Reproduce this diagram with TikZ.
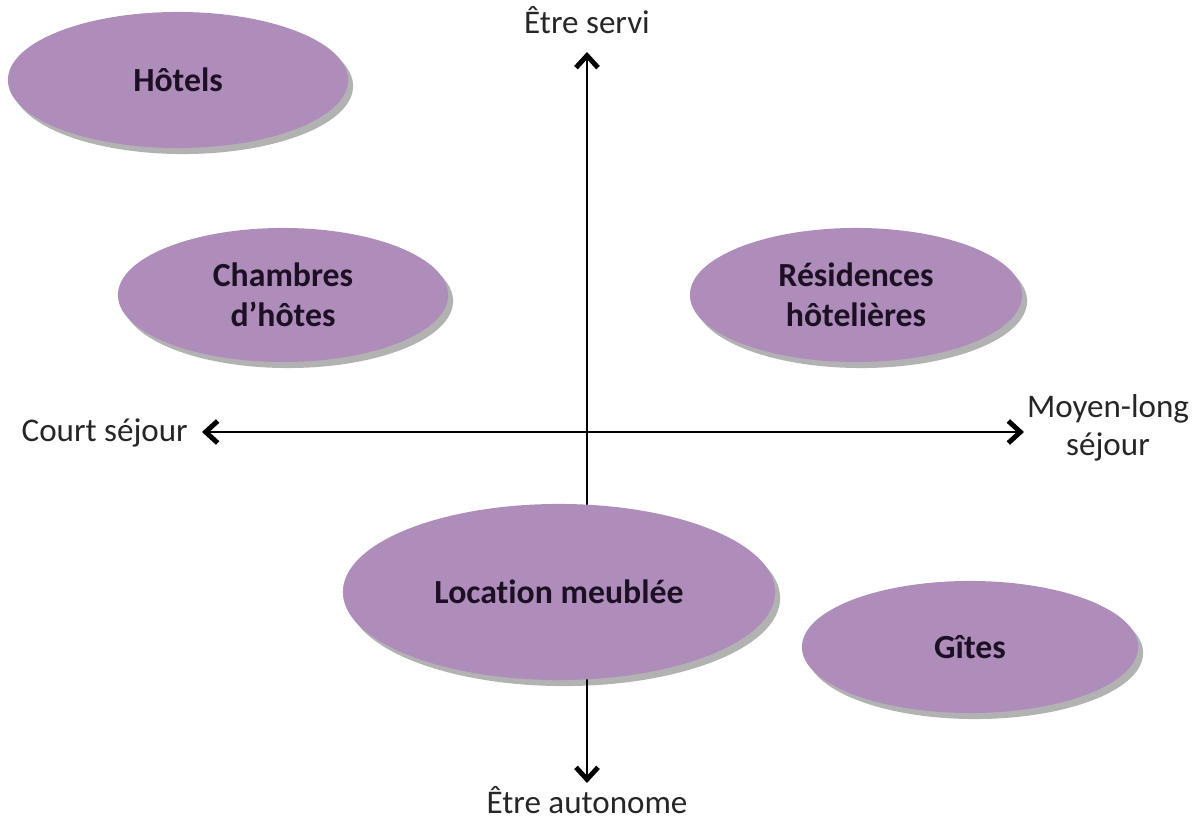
\documentclass[tikz,border=0pt]{standalone}
\usepackage{fontspec}
\setmainfont{Carlito}[Ligatures=NoCommon]
\usetikzlibrary{shapes.geometric, shadows, arrows.meta}
\definecolor{lilas}{RGB}{174,141,187}
\definecolor{texto}{RGB}{30,16,36}
\begin{document}
\begin{tikzpicture}[x=0.01cm, y=-0.01cm,
    bolha/.style={ellipse, fill=lilas, inner sep=0pt, text=texto, font=\fontsize{9.6}{11.5}\selectfont\bfseries, align=center,
        drop shadow={shadow xshift=0.05cm, shadow yshift=-0.06cm, fill=black, opacity=0.3}},
    rotulo/.style={text=black!85, font=\fontsize{9.4}{11}\selectfont, align=center, inner sep=1pt},
    eixo/.style={line width=0.6pt, {Straight Barb[length=1.2mm, width=2.2mm, line width=1.4pt]}-{Straight Barb[length=1.2mm, width=2.2mm, line width=1.4pt]}}]

        \useasboundingbox (0,0) rectangle (1194,818);

        % Eixos
        \coordinate (topo) at (587,52);
        \coordinate (base) at (587,783);
        \coordinate (esq) at (202,432);
        \coordinate (dir) at (1024,432);
        \draw[eixo] (topo) -- (base);
        \draw[eixo] (esq) -- (dir);

        % Rótulos dos eixos
        \node[rotulo] (servi) at (587,20) {Être servi};
        \node[rotulo] (autonome) at (587,800) {Être autonome};
        \node[rotulo, anchor=east] (court) at (192,433) {Court séjour};
        \node[rotulo] (moyen) at (1108,428) {Moyen-long\\séjour};

        % Tipos de hospedagem
        \node[bolha, minimum width=3.40cm, minimum height=1.36cm] (hotels) at (178,80) {Hôtels};
        \node[bolha, minimum width=3.30cm, minimum height=1.34cm] (chambres) at (283,295) {Chambres\\d’hôtes};
        \node[bolha, minimum width=3.32cm, minimum height=1.34cm] (residences) at (856,295) {Résidences\\hôtelières};
        \node[bolha, minimum width=4.32cm, minimum height=1.76cm] (location) at (559,592) {Location meublée};
        \node[bolha, minimum width=3.36cm, minimum height=1.32cm] (gites) at (970,647) {Gîtes};

    \end{tikzpicture}
\end{document}
